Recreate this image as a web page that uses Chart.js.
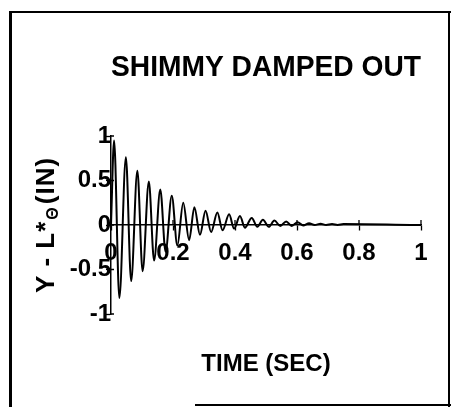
<!DOCTYPE html>
<html>
<head>
<meta charset="utf-8">
<script src="https://cdn.jsdelivr.net/npm/chart.js@4/dist/chart.umd.min.js"></script>
<style>
  html, body { margin: 0; padding: 0; background: #fff; }
  #wrap { position: relative; width: 451px; height: 407px; overflow: hidden; }
  canvas { position: absolute; left: 0; top: 0; }
  .ln { position: absolute; background: #000; pointer-events: none; }
</style>
</head>
<body>
<div id="wrap">
  <canvas id="c" width="451" height="407"></canvas>
  <div class="ln" style="left:9px;top:11px;width:3px;height:396px;"></div>
  <div class="ln" style="left:9px;top:11px;width:442px;height:2px;"></div>
  <div class="ln" style="left:448px;top:13px;width:2px;height:394px;"></div>
  <div class="ln" style="left:195px;top:404px;width:256px;height:2px;"></div>
</div>
<script>
// ---- data ----
const chartTitle = 'SHIMMY DAMPED OUT';
const xAxisTitle = 'TIME (SEC)';
const yAxisTitleMain = 'Y - L*';
const yAxisTitleSub = 'Θ';
const yAxisTitleEnd = '(IN)';

// time (s) of the curve's turning points
const times = [0, 0.010, 0.027, 0.048, 0.065, 0.085, 0.102, 0.122, 0.139, 0.159,
  0.176, 0.196, 0.214, 0.233, 0.252, 0.269, 0.287, 0.305, 0.323, 0.343,
  0.360, 0.381, 0.397, 0.416, 0.432, 0.454, 0.472, 0.490, 0.509, 0.527,
  0.546, 0.565, 0.583, 0.602, 0.620, 0.639, 0.657, 0.676, 0.694, 0.713,
  0.731, 0.750, 1.0];
// Y - L*theta (IN) at those times
const values = [0, 0.95, -0.82, 0.76, -0.63, 0.61, -0.52, 0.49, -0.40, 0.40,
  -0.30, 0.33, -0.23, 0.25, -0.17, 0.20, -0.11, 0.16, -0.08, 0.14,
  -0.06, 0.12, -0.04, 0.10, -0.03, 0.08, -0.02, 0.06, -0.02, 0.05,
  -0.01, 0.04, -0.01, 0.03, -0.005, 0.02, 0, 0.015, 0, 0.01,
  0, 0.01, 0];

const xTickLabels = ['0', '0.2', '0.4', '0.6', '0.8', '1'];
const yTickLabels = ['-1', '-0.5', '0', '0.5', '1'];

const FONT = "'Liberation Sans', Arial, sans-serif";
const NARROW = "'Liberation Sans Narrow', 'Arial Narrow', 'Liberation Sans', sans-serif";

const yTitlePlugin = {
  id: 'yTitle',
  afterDraw(chart) {
    const ctx = chart.ctx;
    const cx = 47, cy = (chart.chartArea.top + chart.chartArea.bottom) / 2;
    ctx.save();
    ctx.translate(cx, cy);
    ctx.rotate(-Math.PI / 2);
    ctx.fillStyle = '#000';
    ctx.textBaseline = 'middle';
    ctx.textAlign = 'left';
    if ('letterSpacing' in ctx) ctx.letterSpacing = '1px';
    const big = 'bold 26px ' + FONT;
    const small = 'bold 16px ' + FONT;
    ctx.font = big; const w1 = ctx.measureText(yAxisTitleMain).width;
    ctx.font = small; const w2 = ctx.measureText(yAxisTitleSub).width;
    ctx.font = big; const w3 = ctx.measureText(yAxisTitleEnd).width;
    let x = -(w1 + w2 + w3 + 3) / 2;
    ctx.font = big; ctx.fillText(yAxisTitleMain, x, 0); x += w1 + 1;
    ctx.font = small; ctx.fillText(yAxisTitleSub, x, 7); x += w2 + 2;
    ctx.font = big; ctx.fillText(yAxisTitleEnd, x, 0);
    ctx.restore();
  }
};

// inner half of the tick marks (ticks cross the axes in the reference)
const crossTicksPlugin = {
  id: 'crossTicks',
  afterDraw(chart) {
    const ctx = chart.ctx;
    const xs = chart.scales.x, ys = chart.scales.y;
    const y0 = ys.getPixelForValue(0), x0 = xs.getPixelForValue(0);
    ctx.save();
    ctx.strokeStyle = '#000';
    ctx.lineWidth = 1.3;
    ctx.beginPath();
    xs.ticks.forEach(t => {
      const px = xs.getPixelForValue(t.value);
      ctx.moveTo(px, y0); ctx.lineTo(px, y0 - 5);
    });
    ys.ticks.forEach(t => {
      const py = ys.getPixelForValue(t.value);
      ctx.moveTo(x0, py); ctx.lineTo(x0 + 3, py);
    });
    ctx.stroke();
    ctx.restore();
  }
};

new Chart(document.getElementById('c'), {
  type: 'scatter',
  data: {
    datasets: [{
      data: times.map((t, i) => ({ x: t, y: values[i] })),
      xAxisID: 'x', yAxisID: 'y',
      showLine: true,
      borderColor: '#000',
      borderWidth: 2,
      pointRadius: 0,
      fill: false,
      cubicInterpolationMode: 'monotone'
    }]
  },
  options: {
    responsive: false,
    animation: false,
    devicePixelRatio: 1,
    layout: { padding: { left: 111, right: 30, top: 10, bottom: 28.6 } },
    plugins: {
      legend: { display: false },
      tooltip: { enabled: false },
      title: {
        display: true,
        text: chartTitle,
        color: '#000',
        font: { family: FONT, size: 30, weight: 'bold', lineHeight: 1.2 },
        padding: { top: 40, bottom: 50 }
      }
    },
    scales: {
      x: {
        type: 'linear', axis: 'x', min: 0, max: 1,
        position: { y: 0 },
        ticks: {
          stepSize: 0.2, color: '#000', padding: 9, maxRotation: 0,
          font: { family: NARROW, size: 24, weight: 'bold' },
          callback: (v, i) => xTickLabels[i]
        },
        grid: { drawOnChartArea: false, tickLength: 5, color: '#000', tickWidth: 1.3 },
        border: { color: '#000', width: 1.5 }
      },
      y: {
        type: 'linear', axis: 'y', min: -1, max: 1,
        position: { x: 0 },
        ticks: {
          stepSize: 0.5, color: '#000', padding: 6,
          font: { family: NARROW, size: 24, weight: 'bold' },
          callback: (v, i) => yTickLabels[i]
        },
        grid: { drawOnChartArea: false, tickLength: 4, color: '#000', tickWidth: 1.3 },
        border: { color: '#000', width: 1.5 }
      },
      xTitle: {
        type: 'linear', axis: 'x', position: 'bottom', min: 0, max: 1,
        ticks: { display: false },
        grid: { display: false, drawTicks: false },
        border: { display: false },
        title: {
          display: true, text: xAxisTitle, color: '#000',
          font: { family: FONT, size: 24, weight: 'bold', lineHeight: 1.2 },
          padding: { top: 35.6, bottom: 0 }
        }
      }
    }
  },
  plugins: [yTitlePlugin, crossTicksPlugin]
});
</script>
</body>
</html>
